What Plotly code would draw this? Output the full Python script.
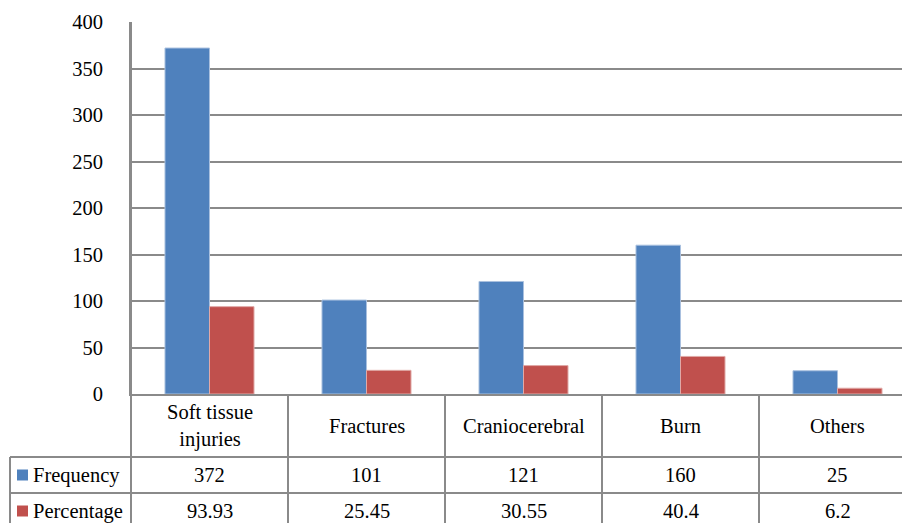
import plotly.graph_objects as go

categories = ["Soft tissue injuries", "Fractures", "Craniocerebral", "Burn", "Others"]
category_labels = ["Soft tissue<br>injuries", "Fractures", "Craniocerebral", "Burn", "Others"]
frequency = [372, 101, 121, 160, 25]
percentage = [93.93, 25.45, 30.55, 40.4, 6.2]
series_names = ["Frequency", "Percentage"]
y_ticks = [0, 50, 100, 150, 200, 250, 300, 350, 400]

BLUE = "#4F81BD"
RED = "#C0504D"
GRID = "#8a8a8a"
FONT = "'Liberation Serif', 'Times New Roman', Times, serif"

W, H = 902, 523
ML, MT, MB = 131, 22, 129
PW = W - ML
PH = H - MT - MB
cat_px = 157.0


def py(ypx):
    return (H - MB - ypx) / PH


def px(xpx):
    return (xpx - ML) / PW


x_idx = list(range(len(categories)))

fig = go.Figure()
fig.add_trace(go.Bar(x=x_idx, y=frequency, name=series_names[0], marker=dict(color=BLUE, line=dict(color="#a9c0df", width=1))))
fig.add_trace(go.Bar(x=x_idx, y=percentage, name=series_names[1], marker=dict(color=RED, line=dict(color="#e0a9a7", width=1))))

x_end = -0.5 + PW / cat_px

shapes = []
line = dict(color=GRID, width=2)
for yy in [457, 493]:
    shapes.append(dict(type="line", xref="paper", yref="paper", x0=px(10), x1=1.0, y0=py(yy), y1=py(yy), line=line))
shapes.append(dict(type="line", xref="paper", yref="paper", x0=px(10), x1=px(10), y0=py(457), y1=py(H + 5), line=line))
shapes.append(dict(type="line", xref="paper", yref="paper", x0=0, x1=0, y0=1, y1=py(H + 5), line=line))
for i in range(len(categories)):
    shapes.append(dict(type="line", xref="x", yref="paper", x0=i + 0.5, x1=i + 0.5, y0=0, y1=py(H + 5), line=line))
for yy, c in [(475, BLUE), (511, RED)]:
    shapes.append(dict(type="rect", xref="paper", yref="paper", x0=px(17), x1=px(28), y0=py(yy - 5.5), y1=py(yy + 5.5), fillcolor=c, line=dict(width=0)))

annotations = []
tf = dict(family=FONT, size=20.5, color="black")
for i, lab in enumerate(category_labels):
    annotations.append(dict(x=i, y=py(425.5), xref="x", yref="paper", text=lab, showarrow=False, font=tf, xanchor="center", yanchor="middle"))
    annotations.append(dict(x=i, y=py(475), xref="x", yref="paper", text=str(frequency[i]), showarrow=False, font=tf, xanchor="center", yanchor="middle"))
    annotations.append(dict(x=i, y=py(511), xref="x", yref="paper", text=str(percentage[i]), showarrow=False, font=tf, xanchor="center", yanchor="middle"))
for yy, name in [(475, series_names[0]), (511, series_names[1])]:
    annotations.append(dict(x=px(31), y=py(yy), xref="paper", yref="paper", text=name, showarrow=False, font=tf, xanchor="left", yanchor="middle"))

fig.update_layout(
    width=W, height=H,
    margin=dict(l=ML, r=0, t=MT, b=MB, pad=0),
    paper_bgcolor="white", plot_bgcolor="white",
    barmode="group", bargap=0.433, bargroupgap=0,
    showlegend=False,
    font=dict(family=FONT, size=20, color="black"),
    xaxis=dict(range=[-0.5, x_end], showticklabels=False, showgrid=False, zeroline=False,
               showline=True, linecolor=GRID, linewidth=2, ticks=""),
    yaxis=dict(range=[0, 400], tickvals=y_ticks, showgrid=True, gridcolor=GRID, gridwidth=2,
               zeroline=False, showline=True, linecolor=GRID, linewidth=2, ticks="",
               ticklabelstandoff=22, tickfont=tf),
    shapes=shapes,
    annotations=annotations,
)

fig.write_html("out.html", config={"displayModeBar": False},
               post_script="document.body.style.margin='0';document.body.style.padding='0';")
